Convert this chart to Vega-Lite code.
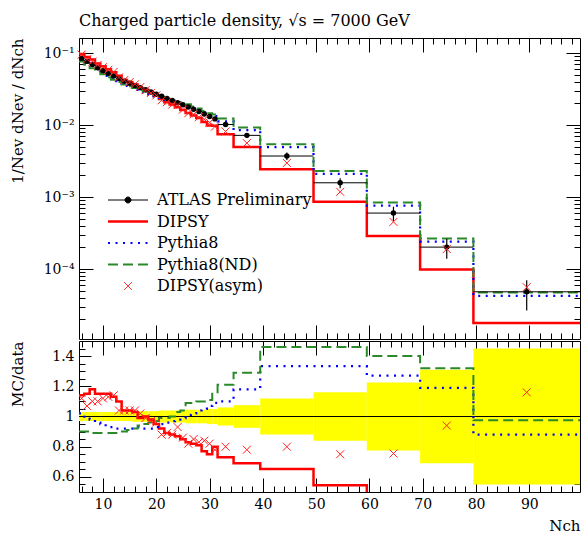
{
  "$schema": "https://vega.github.io/schema/vega-lite/v6.json",
  "padding": {"left": 9, "top": 12, "right": 0, "bottom": 0},
  "background": "white",
  "config": {
    "view": {"stroke": "black", "strokeWidth": 1},
    "font": "DejaVu Serif",
    "axis": {"domain": false, "grid": false, "labelFont": "DejaVu Serif", "labelFontSize": 14, "labelColor": "black", "titleFont": "DejaVu Serif", "titleFontSize": 15, "titleFontWeight": "normal", "titleColor": "black", "tickColor": "black", "tickWidth": 1, "labelOverlap": false, "labelFlush": false}
  },
  "datasets": {
    "bins": [
      {"lo": 5.5, "hi": 6.5, "x": 6, "d": 0.0851, "ylo": 0.08255, "yhi": 0.08765, "blo": 0.97, "bhi": 1.03, "vD": 0.09701, "vP": 0.0868, "vN": 0.07659, "vA": 0.09531, "rD": 1.14, "rP": 1.02, "rN": 0.90, "rA": 1.12},
      {"lo": 6.5, "hi": 7.5, "x": 7, "d": 0.0767, "ylo": 0.0744, "yhi": 0.079, "blo": 0.97, "bhi": 1.03, "vD": 0.08821, "vP": 0.0767, "vN": 0.06903, "vA": 0.08207, "rD": 1.15, "rP": 1.00, "rN": 0.90, "rA": 1.07},
      {"lo": 7.5, "hi": 8.5, "x": 8, "d": 0.0692, "ylo": 0.06712, "yhi": 0.07128, "blo": 0.97, "bhi": 1.03, "vD": 0.08166, "vP": 0.06782, "vN": 0.06159, "vA": 0.07612, "rD": 1.18, "rP": 0.98, "rN": 0.89, "rA": 1.10},
      {"lo": 8.5, "hi": 9.5, "x": 9, "d": 0.0624, "ylo": 0.06053, "yhi": 0.06427, "blo": 0.97, "bhi": 1.03, "vD": 0.07176, "vP": 0.0599, "vN": 0.05554, "vA": 0.06864, "rD": 1.15, "rP": 0.96, "rN": 0.89, "rA": 1.10},
      {"lo": 9.5, "hi": 10.5, "x": 10, "d": 0.0569, "ylo": 0.05519, "yhi": 0.05861, "blo": 0.97, "bhi": 1.03, "vD": 0.06544, "vP": 0.05406, "vN": 0.05064, "vA": 0.06373, "rD": 1.15, "rP": 0.95, "rN": 0.89, "rA": 1.12},
      {"lo": 10.5, "hi": 11.5, "x": 11, "d": 0.0519, "ylo": 0.05034, "yhi": 0.05346, "blo": 0.97, "bhi": 1.03, "vD": 0.05969, "vP": 0.04827, "vN": 0.04619, "vA": 0.05865, "rD": 1.15, "rP": 0.93, "rN": 0.89, "rA": 1.13},
      {"lo": 11.5, "hi": 12.5, "x": 12, "d": 0.0479, "ylo": 0.04646, "yhi": 0.04934, "blo": 0.97, "bhi": 1.03, "vD": 0.05413, "vP": 0.04455, "vN": 0.04263, "vA": 0.05461, "rD": 1.13, "rP": 0.93, "rN": 0.89, "rA": 1.14},
      {"lo": 12.5, "hi": 13.5, "x": 13, "d": 0.0442, "ylo": 0.04287, "yhi": 0.04553, "blo": 0.97, "bhi": 1.03, "vD": 0.04862, "vP": 0.04066, "vN": 0.03978, "vA": 0.04597, "rD": 1.10, "rP": 0.92, "rN": 0.90, "rA": 1.04},
      {"lo": 13.5, "hi": 14.5, "x": 14, "d": 0.0407, "ylo": 0.03948, "yhi": 0.04192, "blo": 0.97, "bhi": 1.03, "vD": 0.04233, "vP": 0.03744, "vN": 0.03663, "vA": 0.04233, "rD": 1.04, "rP": 0.92, "rN": 0.90, "rA": 1.04},
      {"lo": 14.5, "hi": 15.5, "x": 15, "d": 0.038, "ylo": 0.03686, "yhi": 0.03914, "blo": 0.97, "bhi": 1.03, "vD": 0.03952, "vP": 0.03496, "vN": 0.03458, "vA": 0.03952, "rD": 1.04, "rP": 0.92, "rN": 0.91, "rA": 1.04},
      {"lo": 15.5, "hi": 16.5, "x": 16, "d": 0.0355, "ylo": 0.03426, "yhi": 0.03674, "blo": 0.965, "bhi": 1.035, "vD": 0.03657, "vP": 0.03302, "vN": 0.03266, "vA": 0.03692, "rD": 1.03, "rP": 0.93, "rN": 0.92, "rA": 1.04},
      {"lo": 16.5, "hi": 17.5, "x": 17, "d": 0.0331, "ylo": 0.03194, "yhi": 0.03426, "blo": 0.965, "bhi": 1.035, "vD": 0.03277, "vP": 0.03078, "vN": 0.03111, "vA": 0.03376, "rD": 0.99, "rP": 0.93, "rN": 0.94, "rA": 1.02},
      {"lo": 17.5, "hi": 18.5, "x": 18, "d": 0.0309, "ylo": 0.02982, "yhi": 0.03198, "blo": 0.965, "bhi": 1.035, "vD": 0.0309, "vP": 0.02843, "vN": 0.02936, "vA": 0.03059, "rD": 1.00, "rP": 0.92, "rN": 0.95, "rA": 0.99},
      {"lo": 18.5, "hi": 19.5, "x": 19, "d": 0.0288, "ylo": 0.02779, "yhi": 0.02981, "blo": 0.965, "bhi": 1.035, "vD": 0.02822, "vP": 0.0265, "vN": 0.02765, "vA": 0.02794, "rD": 0.98, "rP": 0.92, "rN": 0.96, "rA": 0.97},
      {"lo": 19.5, "hi": 20.5, "x": 20, "d": 0.0269, "ylo": 0.02596, "yhi": 0.02784, "blo": 0.965, "bhi": 1.035, "vD": 0.02556, "vP": 0.02502, "vN": 0.02609, "vA": 0.02582, "rD": 0.95, "rP": 0.93, "rN": 0.97, "rA": 0.96},
      {"lo": 20.5, "hi": 21.5, "x": 21, "d": 0.0251, "ylo": 0.0241, "yhi": 0.0261, "blo": 0.96, "bhi": 1.04, "vD": 0.02309, "vP": 0.02385, "vN": 0.02485, "vA": 0.02209, "rD": 0.92, "rP": 0.95, "rN": 0.99, "rA": 0.88},
      {"lo": 21.5, "hi": 22.5, "x": 22, "d": 0.0234, "ylo": 0.02246, "yhi": 0.02434, "blo": 0.96, "bhi": 1.04, "vD": 0.02083, "vP": 0.02246, "vN": 0.02317, "vA": 0.02083, "rD": 0.89, "rP": 0.96, "rN": 0.99, "rA": 0.89},
      {"lo": 22.5, "hi": 23.5, "x": 23, "d": 0.0219, "ylo": 0.02102, "yhi": 0.02278, "blo": 0.96, "bhi": 1.04, "vD": 0.01927, "vP": 0.02124, "vN": 0.0219, "vA": 0.01927, "rD": 0.88, "rP": 0.97, "rN": 1.00, "rA": 0.88},
      {"lo": 23.5, "hi": 24.5, "x": 24, "d": 0.0204, "ylo": 0.01958, "yhi": 0.02122, "blo": 0.96, "bhi": 1.04, "vD": 0.01775, "vP": 0.01999, "vN": 0.02101, "vA": 0.01897, "rD": 0.87, "rP": 0.98, "rN": 1.03, "rA": 0.93},
      {"lo": 24.5, "hi": 25.5, "x": 25, "d": 0.0191, "ylo": 0.01834, "yhi": 0.01986, "blo": 0.96, "bhi": 1.04, "vD": 0.01624, "vP": 0.01891, "vN": 0.01986, "vA": 0.01643, "rD": 0.85, "rP": 0.99, "rN": 1.04, "rA": 0.86},
      {"lo": 25.5, "hi": 26.5, "x": 26, "d": 0.0178, "ylo": 0.017, "yhi": 0.0186, "blo": 0.955, "bhi": 1.045, "vD": 0.01477, "vP": 0.01798, "vN": 0.0194, "vA": 0.0146, "rD": 0.83, "rP": 1.01, "rN": 1.09, "rA": 0.82},
      {"lo": 26.5, "hi": 27.5, "x": 27, "d": 0.0166, "ylo": 0.01585, "yhi": 0.01735, "blo": 0.955, "bhi": 1.045, "vD": 0.01361, "vP": 0.01693, "vN": 0.01809, "vA": 0.01411, "rD": 0.82, "rP": 1.02, "rN": 1.09, "rA": 0.85},
      {"lo": 27.5, "hi": 28.5, "x": 28, "d": 0.0155, "ylo": 0.0148, "yhi": 0.0162, "blo": 0.955, "bhi": 1.045, "vD": 0.01256, "vP": 0.01612, "vN": 0.01705, "vA": 0.01287, "rD": 0.81, "rP": 1.04, "rN": 1.10, "rA": 0.83},
      {"lo": 28.5, "hi": 29.5, "x": 29, "d": 0.0143, "ylo": 0.01366, "yhi": 0.01494, "blo": 0.955, "bhi": 1.045, "vD": 0.01101, "vP": 0.01502, "vN": 0.01573, "vA": 0.01201, "rD": 0.77, "rP": 1.05, "rN": 1.10, "rA": 0.84},
      {"lo": 29.5, "hi": 30.5, "x": 30, "d": 0.0132, "ylo": 0.01254, "yhi": 0.01386, "blo": 0.95, "bhi": 1.05, "vD": 0.0099, "vP": 0.01412, "vN": 0.01465, "vA": 0.01082, "rD": 0.75, "rP": 1.07, "rN": 1.11, "rA": 0.82},
      {"lo": 30.5, "hi": 31.5, "x": 31, "d": 0.0122, "ylo": 0.01159, "yhi": 0.01281, "blo": 0.95, "bhi": 1.05, "vD": 0.00976, "vP": 0.0133, "vN": 0.01403, "vA": 0.00952, "rD": 0.80, "rP": 1.09, "rN": 1.15, "rA": 0.78},
      {"lo": 31.5, "hi": 34.5, "x": 33, "d": 0.0102, "ylo": 0.00959, "yhi": 0.01081, "blo": 0.94, "bhi": 1.06, "vD": 0.00745, "vP": 0.01122, "vN": 0.01234, "vA": 0.00816, "rD": 0.73, "rP": 1.10, "rN": 1.21, "rA": 0.80},
      {"lo": 34.5, "hi": 39.5, "x": 37, "d": 0.0072, "ylo": 0.00666, "yhi": 0.00774, "blo": 0.925, "bhi": 1.075, "vD": 0.00497, "vP": 0.0085, "vN": 0.00929, "vA": 0.00562, "rD": 0.69, "rP": 1.18, "rN": 1.29, "rA": 0.78},
      {"lo": 39.5, "hi": 49.5, "x": 44.5, "d": 0.00372, "ylo": 0.00327, "yhi": 0.00417, "blo": 0.88, "bhi": 1.12, "vD": 0.00243, "vP": 0.00496, "vN": 0.00543, "vA": 0.00298, "rD": 0.653, "rP": 1.333, "rN": 1.46, "rA": 0.80},
      {"lo": 49.5, "hi": 59.5, "x": 54.5, "d": 0.00158, "ylo": 0.001327, "yhi": 0.001833, "blo": 0.84, "bhi": 1.16, "vD": 0.000861, "vP": 0.00211, "vN": 0.00231, "vA": 0.001185, "rD": 0.545, "rP": 1.333, "rN": 1.46, "rA": 0.75},
      {"lo": 59.5, "hi": 69.5, "x": 64.5, "d": 0.0006, "ylo": 0.000465, "yhi": 0.000735, "blo": 0.775, "bhi": 1.225, "vD": 0.000288, "vP": 0.000762, "vN": 0.00084, "vA": 0.000453, "rD": 0.48, "rP": 1.27, "rN": 1.40, "rA": 0.755},
      {"lo": 69.5, "hi": 79.5, "x": 74.5, "d": 0.000202, "ylo": 0.000139, "yhi": 0.000265, "blo": 0.69, "bhi": 1.31, "vD": 0.000099, "vP": 0.00024, "vN": 0.000267, "vA": 0.00019, "rD": 0.49, "rP": 1.19, "rN": 1.32, "rA": 0.94},
      {"lo": 79.5, "hi": 99.5, "x": 89.5, "d": 0.0000484, "ylo": 0.0000266, "yhi": 0.0000702, "blo": 0.55, "bhi": 1.45, "vD": 0.0000179, "vP": 0.0000426, "vN": 0.0000472, "vA": 0.0000561, "rD": 0.37, "rP": 0.88, "rN": 0.975, "rA": 1.16}
    ]
  },
  "spacing": 0,
  "resolve": {"scale": {"color": "independent", "x": "independent", "y": "independent"}, "legend": {"color": "independent"}},
  "vconcat": [
    {
      "width": 501,
      "height": 301,
      "title": {"text": "Charged particle density, √s = 7000 GeV", "anchor": "start", "frame": "group", "font": "DejaVu Serif", "fontSize": 16, "fontWeight": "normal", "color": "black", "offset": 9},
      "data": {"name": "bins"},
      "resolve": {"axis": {"x": "independent", "y": "independent"}},
      "layer": [
        {
          "transform": [
            {"fold": ["vD", "vP", "vN"], "as": ["k", "v"]},
            {"calculate": "datum.k === 'vD' ? 'DIPSY' : datum.k === 'vP' ? 'Pythia8' : 'Pythia8(ND)'", "as": "s"},
            {"fold": ["lo", "hi"], "as": ["et", "edge"]}
          ],
          "mark": {"type": "line", "clip": true, "strokeCap": "butt"},
          "encoding": {
            "x": {"field": "edge", "type": "quantitative", "scale": {"domain": [5.5, 99.5], "nice": false, "zero": false},
              "axis": {"orient": "bottom", "values": [6,8,10,12,14,16,18,20,22,24,26,28,30,32,34,36,38,40,42,44,46,48,50,52,54,56,58,60,62,64,66,68,70,72,74,76,78,80,82,84,86,88,90,92,94,96,98], "labels": false, "title": null,
                "tickSize": {"condition": {"test": "datum.value % 10 === 0", "value": -14}, "value": -6}}},
            "y": {"field": "v", "type": "quantitative", "scale": {"type": "log", "domain": [0.0000107, 0.162], "nice": false},
              "axis": {"orient": "left", "values": [0.00002,0.00003,0.00004,0.00005,0.00006,0.00007,0.00008,0.00009,0.0001,0.0002,0.0003,0.0004,0.0005,0.0006,0.0007,0.0008,0.0009,0.001,0.002,0.003,0.004,0.005,0.006,0.007,0.008,0.009,0.01,0.02,0.03,0.04,0.05,0.06,0.07,0.08,0.09,0.1],
                "tickSize": {"condition": {"test": "abs(log(datum.value)/LN10 - round(log(datum.value)/LN10)) < 0.001", "value": -14}, "value": -6},
                "labelPadding": 19,
                "labelExpr": "abs(log(datum.value)/LN10 - round(log(datum.value)/LN10)) < 0.001 ? '10⁻' + ['', '¹', '²', '³', '⁴', '⁵'][-round(log(datum.value)/LN10)] : ''",
                "title": "1/Nev dNev / dNch", "titleAnchor": "end", "titleX": -62, "titleBaseline": "middle", "titleAlign": "right"}},
            "order": [{"field": "edge", "type": "quantitative"}, {"field": "et", "type": "nominal"}],
            "color": {"field": "s", "type": "nominal",
              "scale": {"domain": ["ATLAS Preliminary", "DIPSY", "Pythia8", "Pythia8(ND)", "DIPSY(asym)"], "range": ["black", "#ff0000", "#0000ff", "#2a8a2a", "#ff0000"]},
              "legend": {"orient": "none", "legendX": 41, "legendY": 154, "title": null, "labelFont": "DejaVu Serif", "labelFontSize": 16, "labelColor": "black", "labelOffset": 21, "symbolSize": 400, "rowPadding": 5.5, "symbolType": "stroke",
                "encode": {"symbols": {"update": {
                  "shape": {"signal": "datum.value === 'ATLAS Preliminary' ? 'M-2,0H2M0.3,0A0.3,0.3 0 1 1 -0.3,0A0.3,0.3 0 1 1 0.3,0Z' : datum.value === 'DIPSY(asym)' ? 'M-0.4,-0.4L0.4,0.4M-0.4,0.4L0.4,-0.4' : 'M-2,0H2'"},
                  "fill": {"signal": "datum.value === 'ATLAS Preliminary' ? 'black' : 'transparent'"},
                  "stroke": {"signal": "datum.value === 'ATLAS Preliminary' ? 'black' : datum.value === 'Pythia8' ? '#0000ff' : datum.value === 'Pythia8(ND)' ? '#2a8a2a' : '#ff0000'"},
                  "strokeDash": {"signal": "datum.value === 'Pythia8' ? [2, 5.5] : datum.value === 'Pythia8(ND)' ? [10, 5] : [1, 0]"},
                  "strokeWidth": {"signal": "datum.value === 'ATLAS Preliminary' ? 1 : datum.value === 'DIPSY(asym)' ? 1 : datum.value === 'DIPSY' ? 2.5 : 2.2"},
                  "opacity": {"value": 1}
                }}}}},
            "strokeDash": {"field": "s", "type": "nominal", "scale": {"domain": ["DIPSY", "Pythia8", "Pythia8(ND)"], "range": [[1, 0], [2, 5.5], [10, 5]]}, "legend": null},
            "strokeWidth": {"field": "s", "type": "nominal", "scale": {"domain": ["DIPSY", "Pythia8", "Pythia8(ND)"], "range": [2.5, 2, 2.2]}, "legend": null}
          }
        },
        {
          "mark": {"type": "rule", "color": "black", "strokeWidth": 1},
          "encoding": {
            "x": {"field": "lo", "type": "quantitative", "scale": {"domain": [5.5, 99.5], "nice": false, "zero": false},
              "axis": {"orient": "top", "values": [6,8,10,12,14,16,18,20,22,24,26,28,30,32,34,36,38,40,42,44,46,48,50,52,54,56,58,60,62,64,66,68,70,72,74,76,78,80,82,84,86,88,90,92,94,96,98], "labels": false, "title": null,
                "tickSize": {"condition": {"test": "datum.value % 10 === 0", "value": -14}, "value": -6}}},
            "x2": {"field": "hi"},
            "y": {"field": "d", "type": "quantitative", "scale": {"type": "log", "domain": [0.0000107, 0.162], "nice": false},
              "axis": {"orient": "right", "values": [0.00002,0.00003,0.00004,0.00005,0.00006,0.00007,0.00008,0.00009,0.0001,0.0002,0.0003,0.0004,0.0005,0.0006,0.0007,0.0008,0.0009,0.001,0.002,0.003,0.004,0.005,0.006,0.007,0.008,0.009,0.01,0.02,0.03,0.04,0.05,0.06,0.07,0.08,0.09,0.1], "labels": false, "title": null,
                "tickSize": {"condition": {"test": "abs(log(datum.value)/LN10 - round(log(datum.value)/LN10)) < 0.001", "value": -14}, "value": -6}}}
          }
        },
        {
          "mark": {"type": "rule", "color": "black", "strokeWidth": 1.2},
          "encoding": {
            "x": {"field": "x", "type": "quantitative", "axis": null},
            "y": {"field": "ylo", "type": "quantitative", "axis": null},
            "y2": {"field": "yhi"}
          }
        },
        {
          "mark": {"type": "point", "shape": "circle", "filled": true, "color": "black", "size": 30, "opacity": 1},
          "encoding": {
            "x": {"field": "x", "type": "quantitative", "axis": null},
            "y": {"field": "d", "type": "quantitative", "axis": null}
          }
        },
        {
          "mark": {"type": "point", "shape": "M-1,-1L1,1M-1,1L1,-1", "filled": false, "color": "#ff2020", "size": 64, "strokeWidth": 1, "opacity": 1},
          "encoding": {
            "x": {"field": "x", "type": "quantitative", "axis": null},
            "y": {"field": "vA", "type": "quantitative", "axis": null}
          }
        }
      ]
    },
    {
      "width": 501,
      "height": 151,
      "data": {"name": "bins"},
      "resolve": {"axis": {"x": "independent", "y": "independent"}},
      "layer": [
        {
          "mark": {"type": "rect", "color": "#ffff00", "clip": true},
          "encoding": {
            "x": {"field": "lo", "type": "quantitative", "scale": {"domain": [5.5, 99.5], "nice": false, "zero": false},
              "axis": {"orient": "bottom", "values": [6,8,10,12,14,16,18,20,22,24,26,28,30,32,34,36,38,40,42,44,46,48,50,52,54,56,58,60,62,64,66,68,70,72,74,76,78,80,82,84,86,88,90,92,94,96,98],
                "tickSize": {"condition": {"test": "datum.value % 10 === 0", "value": -14}, "value": -6},
                "labelPadding": 19, "labelExpr": "datum.value % 10 === 0 ? format(datum.value, 'd') : ''",
                "title": "Nch", "titleAnchor": "end", "titleAlign": "right", "titleY": 41, "titleBaseline": "bottom", "titleFontSize": 15}},
            "x2": {"field": "hi"},
            "y": {"field": "blo", "type": "quantitative", "scale": {"domain": [0.5, 1.5], "nice": false, "zero": false},
              "axis": {"orient": "left", "values": [0.55,0.6,0.65,0.7,0.75,0.8,0.85,0.9,0.95,1,1.05,1.1,1.15,1.2,1.25,1.3,1.35,1.4,1.45],
                "tickSize": {"condition": {"test": "abs(datum.value*5 - round(datum.value*5)) < 0.001", "value": -12}, "value": -6},
                "labelPadding": 17,
                "labelExpr": "abs(datum.value*5 - round(datum.value*5)) < 0.001 ? format(datum.value, '.1~f') : ''",
                "title": "MC/data", "titleAnchor": "end", "titleX": -62, "titleBaseline": "middle", "titleAlign": "right"}},
            "y2": {"field": "bhi"}
          }
        },
        {
          "mark": {"type": "rule", "color": "black", "strokeWidth": 1},
          "encoding": {"y": {"datum": 1, "type": "quantitative", "axis": null}}
        },
        {
          "transform": [
            {"fold": ["rD", "rP", "rN"], "as": ["k", "r"]},
            {"calculate": "datum.k === 'rD' ? 'DIPSY' : datum.k === 'rP' ? 'Pythia8' : 'Pythia8(ND)'", "as": "s"},
            {"fold": ["lo", "hi"], "as": ["et", "edge"]}
          ],
          "mark": {"type": "line", "clip": true, "strokeCap": "butt"},
          "encoding": {
            "x": {"field": "edge", "type": "quantitative", "scale": {"domain": [5.5, 99.5], "nice": false, "zero": false},
              "axis": {"orient": "top", "values": [6,8,10,12,14,16,18,20,22,24,26,28,30,32,34,36,38,40,42,44,46,48,50,52,54,56,58,60,62,64,66,68,70,72,74,76,78,80,82,84,86,88,90,92,94,96,98], "labels": false, "title": null,
                "tickSize": {"condition": {"test": "datum.value % 10 === 0", "value": -14}, "value": -6}}},
            "y": {"field": "r", "type": "quantitative", "scale": {"domain": [0.5, 1.5], "nice": false, "zero": false},
              "axis": {"orient": "right", "values": [0.55,0.6,0.65,0.7,0.75,0.8,0.85,0.9,0.95,1,1.05,1.1,1.15,1.2,1.25,1.3,1.35,1.4,1.45], "labels": false, "title": null,
                "tickSize": {"condition": {"test": "abs(datum.value*5 - round(datum.value*5)) < 0.001", "value": -12}, "value": -6}}},
            "order": [{"field": "edge", "type": "quantitative"}, {"field": "et", "type": "nominal"}],
            "color": {"field": "s", "type": "nominal", "scale": {"domain": ["DIPSY", "Pythia8", "Pythia8(ND)"], "range": ["#ff0000", "#0000ff", "#2a8a2a"]}, "legend": null},
            "strokeDash": {"field": "s", "type": "nominal", "scale": {"domain": ["DIPSY", "Pythia8", "Pythia8(ND)"], "range": [[1, 0], [2, 5.5], [10, 5]]}, "legend": null},
            "strokeWidth": {"field": "s", "type": "nominal", "scale": {"domain": ["DIPSY", "Pythia8", "Pythia8(ND)"], "range": [2.5, 2, 2.2]}, "legend": null}
          }
        },
        {
          "mark": {"type": "point", "shape": "M-1,-1L1,1M-1,1L1,-1", "filled": false, "color": "#ff2020", "size": 64, "strokeWidth": 1, "opacity": 1, "clip": true},
          "encoding": {
            "x": {"field": "x", "type": "quantitative", "axis": null},
            "y": {"field": "rA", "type": "quantitative", "axis": null}
          }
        }
      ]
    }
  ]
}
